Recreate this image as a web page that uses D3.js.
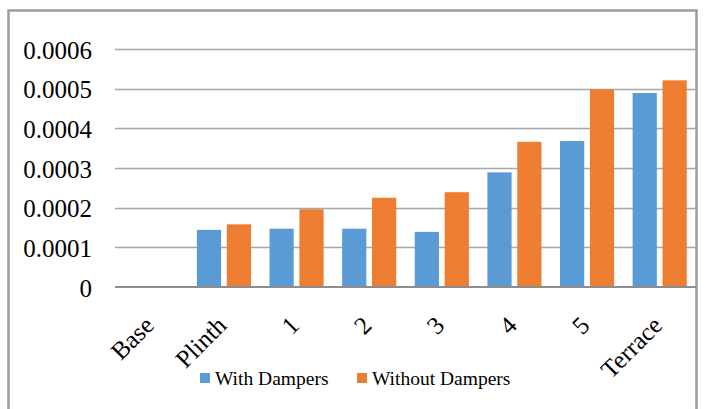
<!DOCTYPE html>
<html>
<head>
<meta charset="utf-8">
<script src="https://cdn.jsdelivr.net/npm/d3@7"></script>
<style>
  html, body { margin: 0; padding: 0; background: #fff; }
  svg { display: block; font-family: "Liberation Serif", "Times New Roman", serif; }
</style>
</head>
<body>
<svg id="chart" width="706" height="409"></svg>
<script>
const categories = ["Base", "Plinth", "1", "2", "3", "4", "5", "Terrace"];
const seriesNames = ["With Dampers", "Without Dampers"];
const withDampers = [0, 0.000144, 0.000147, 0.000147, 0.000139, 0.000289, 0.000368, 0.000489];
const withoutDampers = [0, 0.000158, 0.000196, 0.000225, 0.000239, 0.000366, 0.000498, 0.000521];
const yTicks = [0, 0.0001, 0.0002, 0.0003, 0.0004, 0.0005, 0.0006];
const yTickLabels = ["0", "0.0001", "0.0002", "0.0003", "0.0004", "0.0005", "0.0006"];
const colors = ["#5b9bd5", "#ed7d31"];

const svg = d3.select("#chart");

// outer frame
svg.append("rect")
  .attr("x", 8.5).attr("y", 10.5)
  .attr("width", 688).attr("height", 430)
  .attr("fill", "none").attr("stroke", "#9c9c9c").attr("stroke-width", 2.5);

const plotLeft = 115, plotRight = 696;
const x0 = d3.scaleBand().domain(categories).range([plotLeft, plotRight]).padding(0);
const y = d3.scaleLinear().domain([0, 0.0006]).range([287, 49]);

const groupW = x0.bandwidth() * 0.745;
const x1 = d3.scaleBand().domain(seriesNames).range([0, groupW]).paddingInner(0.19).paddingOuter(0);
const groupOffset = (x0.bandwidth() - groupW) / 2;

// gridlines
svg.append("g").selectAll("line")
  .data(yTicks.filter(d => d > 0))
  .join("line")
  .attr("x1", plotLeft).attr("x2", plotRight)
  .attr("y1", d => Math.round(y(d)) + 0.5).attr("y2", d => Math.round(y(d)) + 0.5)
  .attr("stroke", "#a6a6a6").attr("stroke-width", 1.5);

// y tick labels
svg.append("g").selectAll("text")
  .data(yTicks)
  .join("text")
  .attr("x", 92)
  .attr("y", d => y(d))
  .attr("dy", "0.38em")
  .attr("text-anchor", "end")
  .attr("font-size", 25)
  .attr("fill", "#000")
  .text((d, i) => yTickLabels[i]);

// bars
const data = categories.map((c, i) => ({ cat: c, vals: [withDampers[i], withoutDampers[i]] }));
const groups = svg.append("g").selectAll("g")
  .data(data)
  .join("g")
  .attr("transform", d => `translate(${x0(d.cat) + groupOffset},0)`);

groups.selectAll("rect")
  .data(d => d.vals.map((v, k) => ({ name: seriesNames[k], v, k })))
  .join("rect")
  .attr("x", d => x1(d.name))
  .attr("width", x1.bandwidth())
  .attr("y", d => y(d.v))
  .attr("height", d => y(0) - y(d.v))
  .attr("fill", d => colors[d.k]);

// x axis baseline
svg.append("line")
  .attr("x1", plotLeft).attr("x2", plotRight)
  .attr("y1", y(0)).attr("y2", y(0))
  .attr("stroke", "#8c8c8c").attr("stroke-width", 1.8);

// x labels rotated
svg.append("g").selectAll("text")
  .data(categories)
  .join("text")
  .attr("transform", d => `translate(${x0(d) + x0.bandwidth() / 2 + 4},327) rotate(-45)`)
  .attr("text-anchor", "end")
  .attr("font-size", 25)
  .attr("fill", "#000")
  .text(d => d);

// legend
const legendX = [200, 357];
const legend = svg.append("g").selectAll("g")
  .data(seriesNames)
  .join("g")
  .attr("transform", (d, i) => `translate(${legendX[i]},0)`);
legend.append("rect")
  .attr("x", 0).attr("y", 373)
  .attr("width", 10).attr("height", 10)
  .attr("fill", (d, i) => colors[i]);
legend.append("text")
  .attr("x", 15).attr("y", 385)
  .attr("font-size", 19.5)
  .attr("fill", "#000")
  .text(d => d);
</script>
</body>
</html>
